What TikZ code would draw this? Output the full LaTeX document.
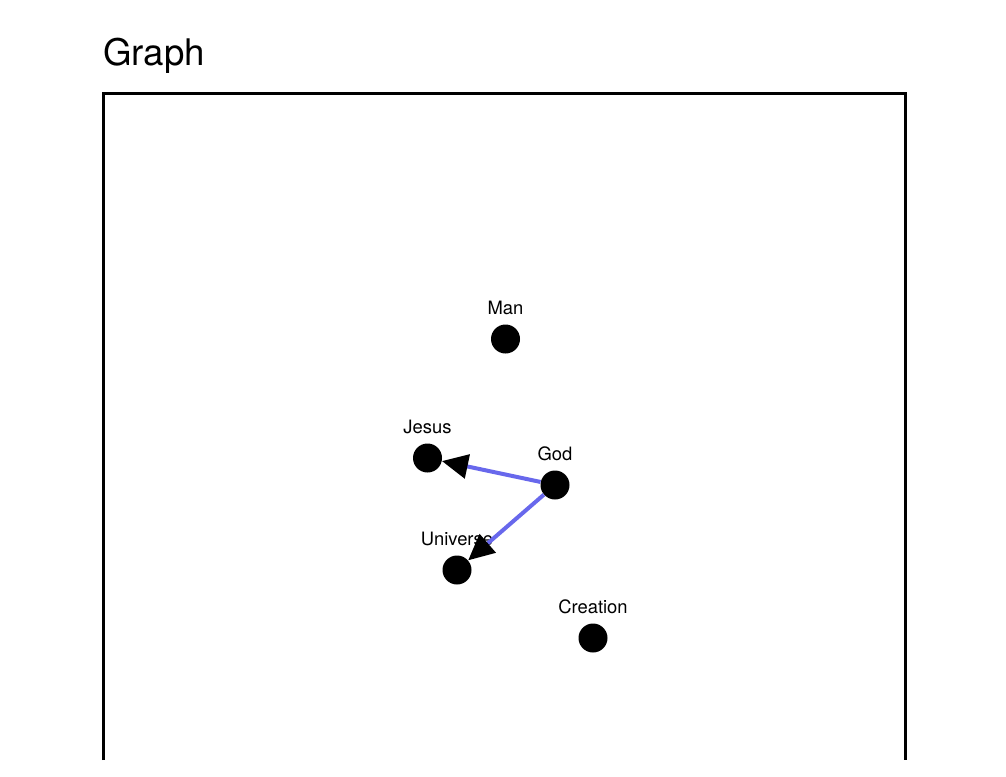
\documentclass[tikz,border=0pt]{standalone}
\usepackage{fontspec}
\setsansfont{TeX Gyre Heros}
\usepackage{tikz}
\usetikzlibrary{automata, positioning, arrows.meta}
\definecolor{linkblue}{RGB}{104,104,236}
\tikzset{
every state/.style={circle, draw=none, fill=black, minimum size=21.75pt, inner sep=0pt}, % black dots
every label/.style={font=\sffamily\fontsize{13.8}{16}\selectfont, inner sep=0pt},
label distance=7pt,
}
\tikzset{
  link/.style={line width=3pt, draw=linkblue, -{Triangle[length=19.5pt, width=18pt, color=black]}}
}

\begin{document}
\begin{tikzpicture}[x=0.75pt, y=-0.75pt]
      \useasboundingbox (0,0) rectangle (1006,776);
      \node[anchor=base west, inner sep=0pt, font=\sffamily\fontsize{27.5}{32}\selectfont] (title) at (103,65) {Graph};
      \coordinate (bl) at (103.5,760);
      \coordinate (br) at (905,760);
      \draw[line width=2.25pt] (bl) |- (905,93.5) -- (br);

      \node[state, label=above:Man] (Man) at (505.5,339) {};
      \node[state, label=above:Jesus] (Jesus) at (427.5,458) {};
      \node[state, label=above:God] (God) at (555,485) {};
      \node[state, label=above:Universe] (Universe) at (457,570) {};
      \node[state, label=above:Creation] (Creation) at (593,638) {};

      \draw (God) edge[link] (Jesus)
      (God) edge[link] (Universe);
\end{tikzpicture}
\end{document}
